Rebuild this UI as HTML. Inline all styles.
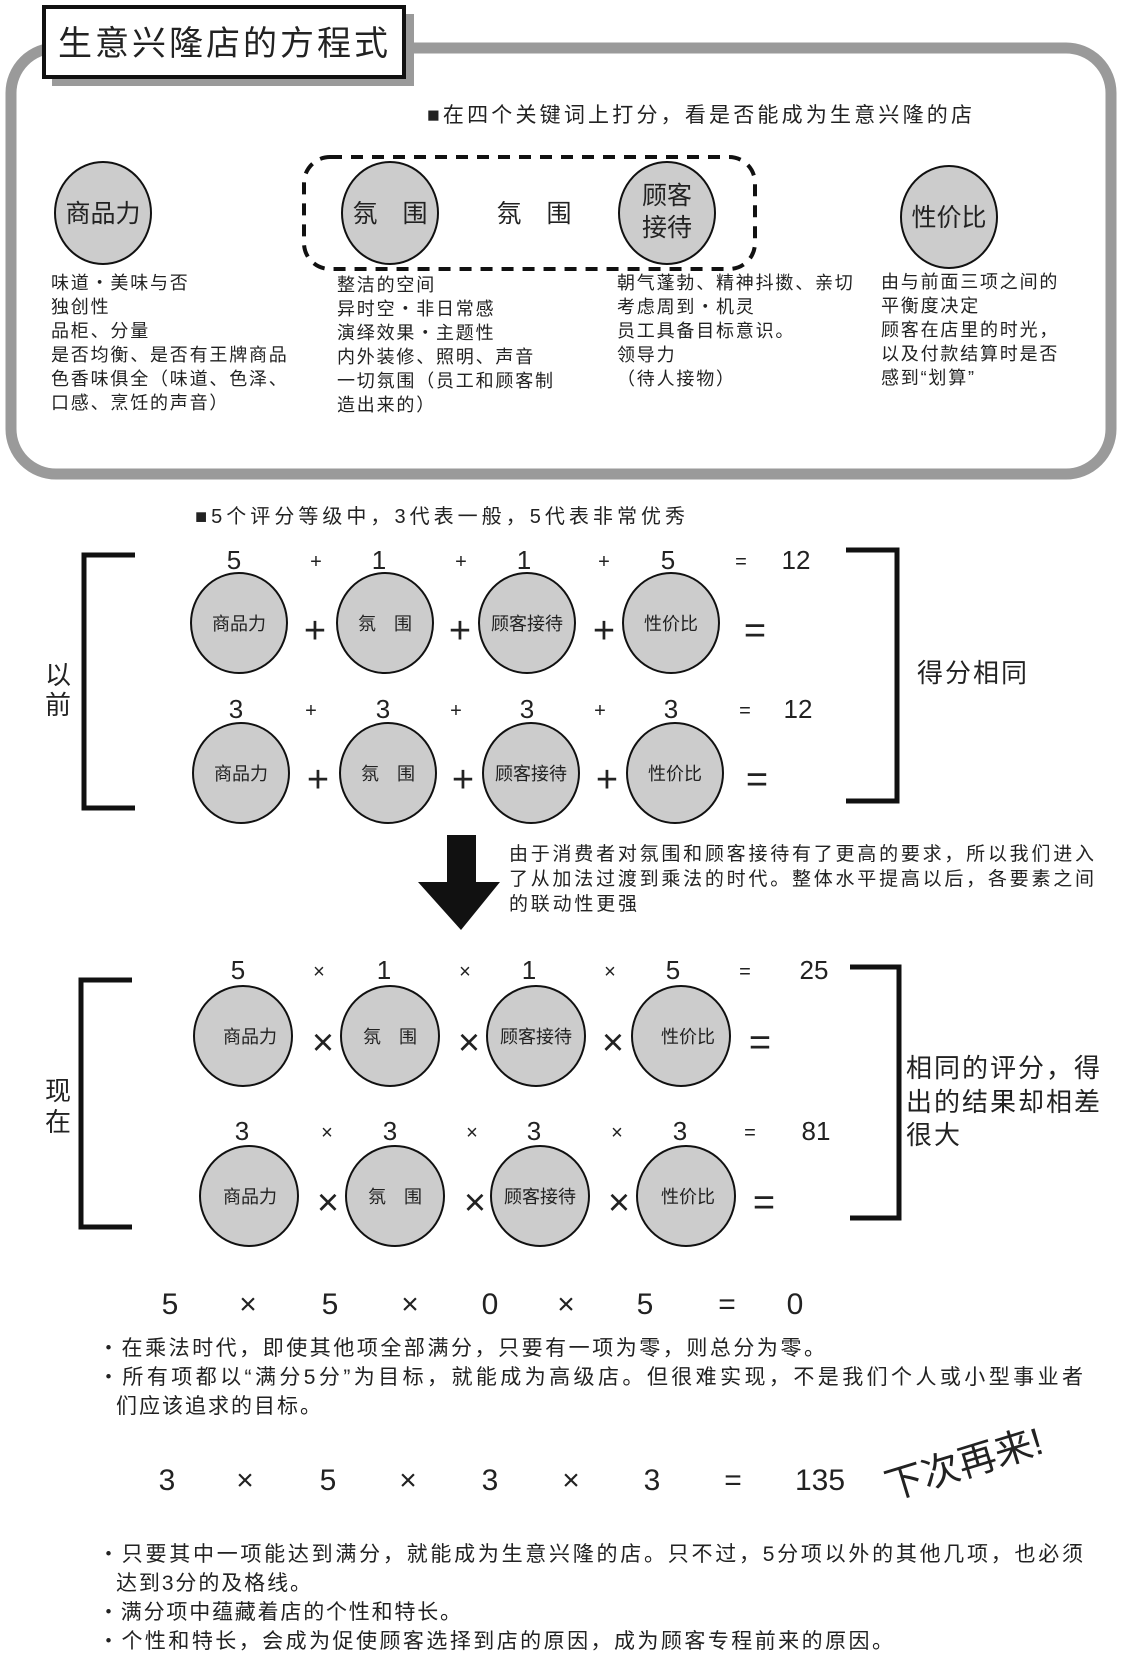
<!DOCTYPE html>
<html><head><meta charset="utf-8"><style>
html,body{margin:0;padding:0;background:#fff}
svg{display:block}
text{font-family:"Liberation Sans","Noto Sans CJK SC",sans-serif;fill:#222}
.c{fill:#ccc;stroke:#111;stroke-width:2}
.s{font-size:18px}
.d{font-size:18px;letter-spacing:1.8px}
.n{font-size:26px}
.o{font-size:20px}
.big{font-size:38px}
.eq{font-size:30px}
</style></head><body>
<svg width="1128" height="1656" viewBox="0 0 1128 1656" xmlns="http://www.w3.org/2000/svg">
<rect x="11" y="48" width="1100" height="426" rx="45" fill="#fff" stroke="#9a9a9a" stroke-width="11"/>
<rect x="52" y="14" width="362" height="72" fill="#9a9a9a"/>
<rect x="44" y="7" width="360" height="70" fill="#fff" stroke="#111" stroke-width="4"/>
<text x="58" y="55" style="font-size:34px;letter-spacing:3px">生意兴隆店的方程式</text>
<text x="427" y="122" style="font-size:21px" textLength="545" lengthAdjust="spacing">■在四个关键词上打分，看是否能成为生意兴隆的店</text>
<rect x="304" y="157" width="451" height="112" rx="26" fill="none" stroke="#111" stroke-width="4" stroke-dasharray="12,9"/>
<g text-anchor="middle">
<ellipse class="c" cx="103" cy="213" rx="48" ry="51"/><text x="103" y="222" style="font-size:25px">商品力</text>
<ellipse class="c" cx="390" cy="213" rx="48" ry="51"/><text x="390" y="222" style="font-size:25px">氛　围</text>
<text x="534" y="222" style="font-size:25px">氛　围</text>
<ellipse class="c" cx="667" cy="213" rx="48" ry="51"/><text x="667" y="204" style="font-size:25px">顾客</text><text x="667" y="236" style="font-size:25px">接待</text>
<ellipse class="c" cx="949" cy="217" rx="48" ry="51"/><text x="949" y="226" style="font-size:25px">性价比</text>
</g>
<g class="d">
<text x="51" y="289">味道・美味与否</text><text x="51" y="313">独创性</text><text x="51" y="337">品柜、分量</text><text x="51" y="361">是否均衡、是否有王牌商品</text><text x="51" y="385">色香味俱全（味道、色泽、</text><text x="51" y="409">口感、烹饪的声音）</text>
<text x="337" y="291">整洁的空间</text><text x="337" y="315">异时空・非日常感</text><text x="337" y="339">演绎效果・主题性</text><text x="337" y="363">内外装修、照明、声音</text><text x="337" y="387">一切氛围（员工和顾客制</text><text x="337" y="411">造出来的）</text>
<text x="617" y="289">朝气蓬勃、精神抖擞、亲切</text><text x="617" y="313">考虑周到・机灵</text><text x="617" y="337">员工具备目标意识。</text><text x="617" y="361">领导力</text><text x="617" y="385">（待人接物）</text>
<text x="881" y="288">由与前面三项之间的</text><text x="881" y="312">平衡度决定</text><text x="881" y="336">顾客在店里的时光，</text><text x="881" y="360">以及付款结算时是否</text><text x="881" y="384">感到“划算”</text>
</g>
<text x="195" y="523" style="font-size:20px" textLength="490" lengthAdjust="spacing">■5个评分等级中，3代表一般，5代表非常优秀</text>
<g fill="none" stroke="#111" stroke-width="5">
<path d="M135 555 H84 V808 H135"/><path d="M846 550 H897 V801 H846"/>
<path d="M132 980 H81 V1227 H132"/><path d="M850 967 H899 V1218 H850"/>
</g>
<text x="45" y="684" style="font-size:26px">以</text><text x="45" y="714" style="font-size:26px">前</text>
<text x="45" y="1100" style="font-size:26px">现</text><text x="45" y="1131" style="font-size:26px">在</text>
<text x="917" y="682" style="font-size:26px;letter-spacing:2px">得分相同</text>
<g style="font-size:26px;letter-spacing:2px">
<text x="906" y="1077">相同的评分，得</text><text x="906" y="1111">出的结果却相差</text><text x="906" y="1144">很大</text>
</g>
<g text-anchor="middle">
<text class="n" x="234" y="569">5</text><text class="o" x="316" y="568">+</text><text class="n" x="379" y="569">1</text><text class="o" x="461" y="568">+</text><text class="n" x="524" y="569">1</text><text class="o" x="604" y="568">+</text><text class="n" x="668" y="569">5</text><text class="o" x="741" y="568">=</text><text class="n" x="796" y="569">12</text>
<ellipse class="c" cx="239" cy="623" rx="48" ry="50"/><text class="s" x="239" y="630">商品力</text>
<ellipse class="c" cx="385" cy="623" rx="48" ry="50"/><text class="s" x="385" y="630">氛　围</text>
<ellipse class="c" cx="527" cy="623" rx="48" ry="50"/><text class="s" x="527" y="630">顾客接待</text>
<ellipse class="c" cx="671" cy="623" rx="48" ry="50"/><text class="s" x="671" y="630">性价比</text>
<text class="big" x="315" y="643">+</text><text class="big" x="460" y="643">+</text><text class="big" x="604" y="643">+</text><text class="big" x="755" y="643">=</text>
<text class="n" x="236" y="718">3</text><text class="o" x="311" y="717">+</text><text class="n" x="383" y="718">3</text><text class="o" x="456" y="717">+</text><text class="n" x="527" y="718">3</text><text class="o" x="600" y="717">+</text><text class="n" x="671" y="718">3</text><text class="o" x="745" y="717">=</text><text class="n" x="798" y="718">12</text>
<ellipse class="c" cx="241" cy="773" rx="48" ry="50"/><text class="s" x="241" y="780">商品力</text>
<ellipse class="c" cx="388" cy="773" rx="48" ry="50"/><text class="s" x="388" y="780">氛　围</text>
<ellipse class="c" cx="531" cy="773" rx="48" ry="50"/><text class="s" x="531" y="780">顾客接待</text>
<ellipse class="c" cx="675" cy="773" rx="48" ry="50"/><text class="s" x="675" y="780">性价比</text>
<text class="big" x="318" y="792">+</text><text class="big" x="463" y="792">+</text><text class="big" x="607" y="792">+</text><text class="big" x="757" y="792">=</text>
<text class="n" x="238" y="979">5</text><text class="o" x="319" y="978">×</text><text class="n" x="384" y="979">1</text><text class="o" x="465" y="978">×</text><text class="n" x="529" y="979">1</text><text class="o" x="610" y="978">×</text><text class="n" x="673" y="979">5</text><text class="o" x="745" y="978">=</text><text class="n" x="814" y="979">25</text>
<ellipse class="c" cx="243" cy="1036" rx="49" ry="50"/><text class="s" x="250" y="1043">商品力</text>
<ellipse class="c" cx="390" cy="1036" rx="49" ry="50"/><text class="s" x="390" y="1043">氛　围</text>
<ellipse class="c" cx="536" cy="1036" rx="49" ry="50"/><text class="s" x="536" y="1043">顾客接待</text>
<ellipse class="c" cx="681" cy="1036" rx="49" ry="50"/><text class="s" x="688" y="1043">性价比</text>
<text class="big" x="323" y="1055">×</text><text class="big" x="469" y="1055">×</text><text class="big" x="613" y="1055">×</text><text class="big" x="760" y="1055">=</text>
<text class="n" x="242" y="1140">3</text><text class="o" x="327" y="1139">×</text><text class="n" x="390" y="1140">3</text><text class="o" x="472" y="1139">×</text><text class="n" x="534" y="1140">3</text><text class="o" x="617" y="1139">×</text><text class="n" x="680" y="1140">3</text><text class="o" x="750" y="1139">=</text><text class="n" x="816" y="1140">81</text>
<ellipse class="c" cx="249" cy="1196" rx="49" ry="50"/><text class="s" x="250" y="1203">商品力</text>
<ellipse class="c" cx="395" cy="1196" rx="49" ry="50"/><text class="s" x="395" y="1203">氛　围</text>
<ellipse class="c" cx="540" cy="1196" rx="49" ry="50"/><text class="s" x="540" y="1203">顾客接待</text>
<ellipse class="c" cx="686" cy="1196" rx="49" ry="50"/><text class="s" x="688" y="1203">性价比</text>
<text class="big" x="328" y="1215">×</text><text class="big" x="475" y="1215">×</text><text class="big" x="619" y="1215">×</text><text class="big" x="764" y="1215">=</text>
</g>
<polygon points="447,835 476,835 476,882 500,882 461,930 418,882 447,882" fill="#111"/>
<g style="font-size:19px">
<text x="509" y="860" textLength="585" lengthAdjust="spacing">由于消费者对氛围和顾客接待有了更高的要求，所以我们进入</text>
<text x="509" y="885" textLength="585" lengthAdjust="spacing">了从加法过渡到乘法的时代。整体水平提高以后，各要素之间</text>
<text x="509" y="910" textLength="128" lengthAdjust="spacing">的联动性更强</text>
</g>
<g text-anchor="middle" class="eq">
<text x="170" y="1314">5</text><text x="248" y="1314">×</text><text x="330" y="1314">5</text><text x="410" y="1314">×</text><text x="490" y="1314">0</text><text x="566" y="1314">×</text><text x="645" y="1314">5</text><text x="727" y="1314">=</text><text x="795" y="1314">0</text>
<text x="167" y="1490">3</text><text x="245" y="1490">×</text><text x="328" y="1490">5</text><text x="408" y="1490">×</text><text x="490" y="1490">3</text><text x="571" y="1490">×</text><text x="652" y="1490">3</text><text x="733" y="1490">=</text><text x="820" y="1490">135</text>
</g>
<text x="0" y="0" transform="translate(890,1500) rotate(-17)" style="font-size:38px">下次再来!</text>
<g style="font-size:21px">
<text x="98" y="1355" textLength="727" lengthAdjust="spacing">・在乘法时代，即使其他项全部满分，只要有一项为零，则总分为零。</text>
<text x="98" y="1384" textLength="985" lengthAdjust="spacing">・所有项都以“满分5分”为目标，就能成为高级店。但很难实现，不是我们个人或小型事业者</text>
<text x="116" y="1413" textLength="205" lengthAdjust="spacing">们应该追求的目标。</text>
<text x="98" y="1561" textLength="985" lengthAdjust="spacing">・只要其中一项能达到满分，就能成为生意兴隆的店。只不过，5分项以外的其他几项，也必须</text>
<text x="116" y="1590" textLength="195" lengthAdjust="spacing">达到3分的及格线。</text>
<text x="98" y="1619" textLength="363" lengthAdjust="spacing">・满分项中蕴藏着店的个性和特长。</text>
<text x="98" y="1648" textLength="795" lengthAdjust="spacing">・个性和特长，会成为促使顾客选择到店的原因，成为顾客专程前来的原因。</text>
</g>
</svg>
</body></html>
